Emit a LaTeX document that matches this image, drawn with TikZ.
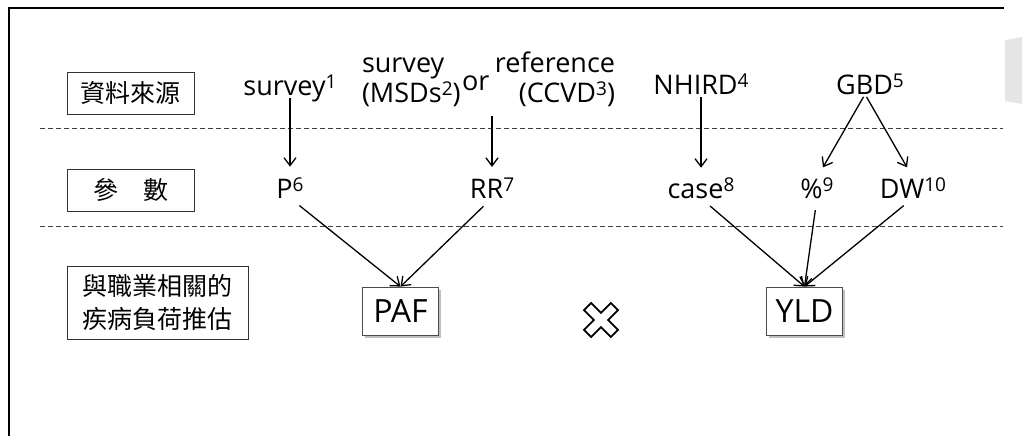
\documentclass[tikz,border=0pt]{standalone}
\usepackage{fontspec}
\setmainfont{Open Sans}
\newfontfamily\cjk{Noto Sans CJK TC}
\usetikzlibrary{arrows.meta,shadows}
\newcommand\sps[1]{\raisebox{6.5pt}{\fontsize{19}{19}\selectfont #1}}
\begin{document}
\begin{tikzpicture}[x=1pt,y=-1pt,
  lbl/.style={font=\fontsize{27}{30}\selectfont, inner sep=0pt, outer sep=0pt, anchor=base},
  cbox/.style={draw=black!80, line width=0.8pt, font=\cjk\fontsize{25}{33}\selectfont, inner sep=0pt, align=center},
  res/.style={draw=black!70, fill=white, line width=0.8pt, font=\fontsize{32}{36}\selectfont,
    minimum width=76pt, minimum height=48pt, inner sep=0pt,
    drop shadow={shadow xshift=2.5pt, shadow yshift=-2.5pt, fill=black!50, opacity=.5}},
  conn/.style={line width=1.3pt, -{Straight Barb[length=8pt,width=12pt]}},
  sepline/.style={dash pattern=on 5pt off 3pt, line width=0.8pt, black!75}]
\useasboundingbox (0,0) rectangle (1022,436);
% frame
\draw[line width=2pt] (9,437) -- (9,8) -- (1004,8);
\fill[black!10] (1005,40) -- (1022,37) -- (1022,104) -- (1005,101) -- cycle;
% separators
\draw[sepline] (40,128) -- (1003,128);
\draw[sepline] (40,226) -- (1003,226);
% row labels
\node[cbox, minimum width=127pt, minimum height=42pt] (rsrc) at (130.5,93) {資料來源};
\node[cbox, minimum width=127pt, minimum height=42pt] (rpar) at (130.5,190) {參　數};
\node[cbox, minimum width=181pt, minimum height=73pt] (rest) at (157.5,302.5) {與職業相關的\\疾病負荷推估};
% sources
\node[lbl] (s1) at (290,95) {survey\sps{1}};
\node[lbl, anchor=base west] (s2a) at (362,73) {survey};
\node[lbl, anchor=base west] (s2b) at (362,102) {(MSDs\sps{2})};
\node[lbl, anchor=base west] (or) at (462,90) {or};
\node[lbl, anchor=base east] (refa) at (615,73) {reference};
\node[lbl, anchor=base east] (refb) at (615,102) {(CCVD\sps{3})};
\coordinate (orsrc) at (492,116);
\node[lbl] (nhird) at (701,94) {NHIRD\sps{4}};
\node[lbl] (gbd) at (870,94) {GBD\sps{5}};
% parameters
\node[lbl] (P) at (290,198) {P\sps{6}};
\node[lbl] (RR) at (492,198) {RR\sps{7}};
\node[lbl] (case) at (701,198) {case\sps{8}};
\node[lbl] (pct) at (817,198) {\%\sps{9}};
\node[lbl] (DW) at (913,198) {DW\sps{10}};
% results
\node[res] (PAF) at (400.5,311) {PAF};
\node[res] (YLD) at (804.5,311) {YLD};
% multiplication cross
\begin{scope}[shift={(601,320)}, rotate=45]
\draw[line width=1.8pt, fill=white, line join=miter] (19,5) -- (5,5) -- (5,19) -- (-5,19) -- (-5,5) -- (-19,5)
  -- (-19,-5) -- (-5,-5) -- (-5,-19) -- (5,-19) -- (5,-5) -- (19,-5) -- cycle;
\end{scope}
% connectors
\draw[conn, shorten <=-3.5pt, shorten >=11pt] (s1.south) -- (P.north);
\draw[conn, shorten >=11pt] (orsrc) -- (RR.north);
\draw[conn, shorten <=3pt, shorten >=10pt] (nhird.south) -- (case.north);
\draw[conn, shorten <=3pt, shorten >=12pt] ([xshift=-5pt]gbd.south) -- (pct.north);
\draw[conn, shorten <=3pt, shorten >=12pt] ([xshift=-5pt]gbd.south) -- (DW.north);
\draw[conn, shorten <=12pt] (P.south) -- (PAF.north);
\draw[conn, shorten <=12pt] (RR.south) -- (PAF.north);
\draw[conn, shorten <=12pt] (case.south) -- (YLD.north);
\draw[conn, shorten <=12pt] (pct.south) -- (YLD.north);
\draw[conn, shorten <=12pt] (DW.south) -- (YLD.north);
\end{tikzpicture}
\end{document}
